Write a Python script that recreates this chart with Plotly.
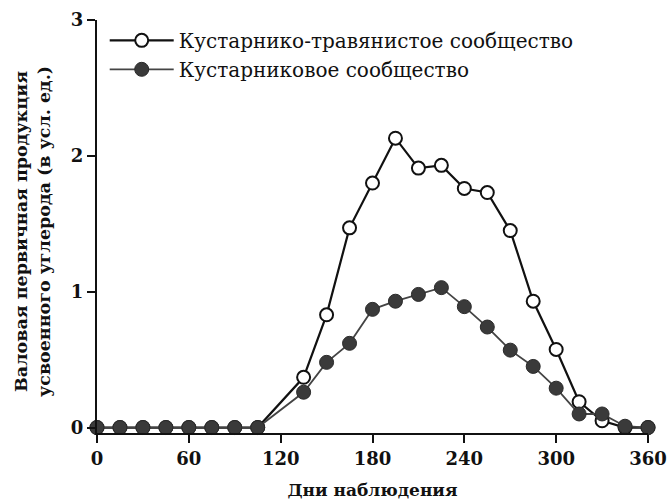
import plotly.graph_objects as go

days = [0, 15, 30, 45, 60, 75, 90, 105, 135, 150, 165, 180, 195, 210, 225, 240, 255, 270, 285, 300, 315, 330, 345, 360]
shrub_grass = [0, 0, 0, 0, 0, 0, 0, 0, 0.37, 0.83, 1.47, 1.80, 2.13, 1.91, 1.93, 1.76, 1.73, 1.45, 0.93, 0.575, 0.19, 0.05, 0, 0]
shrub = [0, 0, 0, 0, 0, 0, 0, 0, 0.26, 0.48, 0.62, 0.87, 0.93, 0.98, 1.03, 0.89, 0.74, 0.57, 0.45, 0.29, 0.10, 0.10, 0.01, 0]
name_open = "Кустарнико-травянистое сообщество"
name_filled = "Кустарниковое сообщество"
x_ticks = [0, 60, 120, 180, 240, 300, 360]
y_ticks = [0, 1, 2, 3]
x_title = "Дни наблюдения"
y_title = "Валовая первичная продукция<br>усвоенного углерода (в усл. ед.)"

FONT = "DejaVu Serif"

fig = go.Figure()
fig.add_trace(go.Scatter(
    x=days, y=shrub_grass, name=name_open, mode="lines+markers",
    line=dict(color="#111111", width=2.2),
    marker=dict(symbol="circle", size=13, color="white", line=dict(color="#111111", width=2)),
    cliponaxis=False, legendgroup="a",
))
fig.add_trace(go.Scatter(
    x=days, y=shrub, name=name_filled, mode="lines+markers",
    line=dict(color="#444444", width=1.8),
    marker=dict(symbol="circle", size=14, color="#3a3a3a", line=dict(color="#2a2a2a", width=1)),
    cliponaxis=False, legendgroup="b",
))

tick_font = dict(family=FONT, size=18, color="#111111", weight="bold")

fig.update_layout(
    width=669, height=504,
    margin=dict(l=97, r=21, t=20, b=71, autoexpand=False),
    paper_bgcolor="white", plot_bgcolor="white",
    font=dict(family=FONT, color="#111111", size=19),
    showlegend=True,
    legend=dict(
        x=0.014, y=0.998, xanchor="left", yanchor="top",
        bgcolor="rgba(0,0,0,0)", font=dict(family=FONT, size=20, color="#111111"),
        traceorder="grouped", tracegroupgap=0, itemwidth=64,
    ),
    xaxis=dict(
        range=[0, 360], tickvals=x_ticks, ticktext=[str(v) for v in x_ticks],
        showline=True, linecolor="#111111", linewidth=2,
        ticks="outside", ticklen=8, tickwidth=2, tickcolor="#111111",
        showgrid=False, zeroline=False, automargin=False,
        tickfont=tick_font,
        title=dict(text="<b>" + x_title + "</b>", font=dict(family=FONT, size=17), standoff=17),
    ),
    yaxis=dict(
        range=[-0.04, 3], tickvals=y_ticks, ticktext=[str(v) for v in y_ticks],
        showline=True, linecolor="#111111", linewidth=2,
        ticks="outside", ticklen=8, tickwidth=2, tickcolor="#111111",
        showgrid=False, zeroline=False, automargin=False,
        tickfont=tick_font,
    ),
    annotations=[dict(
        text="<b>" + y_title + "</b>", xref="paper", yref="paper",
        x=-0.116, y=0.487, xanchor="center", yanchor="middle",
        textangle=-90, showarrow=False,
        font=dict(family=FONT, size=17.5, color="#111111"),
    )],
)

fig.write_html("out.html", config={"displayModeBar": False},
               post_script="document.body.style.margin='0';document.body.style.padding='0';")
